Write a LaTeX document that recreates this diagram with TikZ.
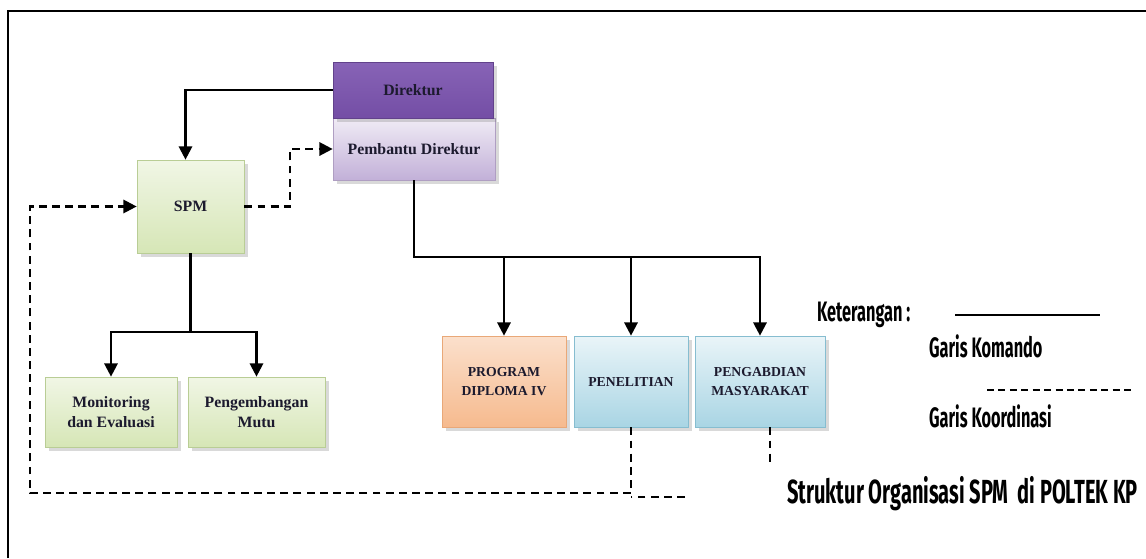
\documentclass[tikz,border=0pt]{standalone}
\usepackage{fontspec}
\setmainfont{Liberation Serif}
\newfontfamily\ketfont[FakeStretch=0.58]{Fira Sans}
\newfontfamily\judulfont[FakeStretch=0.6]{Fira Sans}
\usetikzlibrary{arrows.meta,shadows}

\definecolor{teksgelap}{HTML}{1C1A2E}
\definecolor{ungutua}{HTML}{7A52AE}
\definecolor{ungumuda}{HTML}{C2B0D8}
\definecolor{hijaumuda}{HTML}{D6E6B6}
\definecolor{hijaugaris}{HTML}{B9CD95}
\definecolor{oranye}{HTML}{F6BA8E}
\definecolor{oranyegaris}{HTML}{E9A878}
\definecolor{birumuda}{HTML}{A9D5E4}
\definecolor{birugaris}{HTML}{86BDD0}

\tikzset{
    kotak/.style={rectangle, inner sep=1pt, align=center, text=teksgelap,
        font=\bfseries\fontsize{9}{11}\selectfont,
        drop shadow={shadow xshift=2pt, shadow yshift=-2pt, opacity=0.3}},
    kotakungu/.style={kotak, draw=ungutua!80!black, top color=ungutua!90, bottom color=ungutua!95!black},
    kotaklavender/.style={kotak, draw=ungumuda!90!black, top color=ungumuda!25, bottom color=ungumuda},
    kotakhijau/.style={kotak, draw=hijaugaris, top color=hijaumuda!35, bottom color=hijaumuda},
    kotakoranye/.style={kotak, draw=oranyegaris, top color=oranye!45, bottom color=oranye,
        font=\bfseries\fontsize{7.8}{11}\selectfont},
    kotakbiru/.style={kotak, draw=birugaris, top color=birumuda!25, bottom color=birumuda,
        font=\bfseries\fontsize{7.8}{11}\selectfont},
    komando/.style={line width=1.3pt, -{Triangle[length=7.5pt,width=7.5pt]}},
    koordinasi/.style={line width=1.3pt, dash pattern=on 4.5pt off 3pt},
    teksket/.style={anchor=base west, font=\ketfont\bfseries\fontsize{16}{18}\selectfont}
}

\begin{document}
\begin{tikzpicture}[x=0.02cm, y=-0.02cm]
    \useasboundingbox ( 0, 0 ) rectangle ( 1146, 558 );

    % bingkai
    \draw [line width=1.3pt] ( 8, 558 ) -- ( 8, 11 ) -- ( 1146, 11 );

    % kotak
    \node [kotaklavender, minimum width=3.24cm, minimum height=1.24cm] (pd) at ( 414, 149 ) {Pembantu Direktur};
    \node [kotakungu, minimum width=3.2cm, minimum height=1.12cm] (dir) at ( 413, 90 ) {Direktur};
    \node [kotakhijau, minimum width=2.14cm, minimum height=1.86cm] (spm) at ( 190.5, 206.5 ) {SPM};
    \node [kotakhijau, minimum width=2.64cm, minimum height=1.4cm] (mon) at ( 111, 412 ) {Monitoring\\dan Evaluasi};
    \node [kotakhijau, minimum width=2.74cm, minimum height=1.4cm] (pmu) at ( 256.5, 412 ) {Pengembangan\\Mutu};
    \node [kotakoranye, minimum width=2.48cm, minimum height=1.82cm] (prog) at ( 504, 381.5 ) {PROGRAM\\DIPLOMA IV};
    \node [kotakbiru, minimum width=2.28cm, minimum height=1.82cm] (pen) at ( 631, 381.5 ) {PENELITIAN};
    \node [kotakbiru, minimum width=2.6cm, minimum height=1.82cm] (pkm) at ( 760, 381.5 ) {PENGABDIAN\\MASYARAKAT};

    % garis komando
    \coordinate (bus) at ( 0, 257 );
    \draw [komando] (dir.west) -| ([xshift=-0.1cm] spm.north);
    \draw [komando] (spm.south) -- ++( 0, 79 ) -| (mon.north);
    \draw [komando] (spm.south) -- ++( 0, 79 ) -| (pmu.north);
    \draw [komando] (pd.south) |- (prog.north |- bus) -- (prog.north);
    \draw [komando] (pd.south) |- (pen.north |- bus) -- (pen.north);
    \draw [komando] (pd.south) |- (pkm.north |- bus) -- (pkm.north);

    % garis koordinasi
    \coordinate (kiri) at ( 30, 493 );
    \coordinate (ujung) at ( 685, 497 );
    \coordinate (pkmujung) at ( 770, 465 );
    \draw [koordinasi, -{Triangle[length=7.5pt,width=7.5pt]}] (spm.east) -- ++( 46, 0 ) |- (pd.west);
    \draw [koordinasi, -{Triangle[length=7.5pt,width=7.5pt]}] (pen.south) |- (kiri) |- (spm.west);
    \draw [koordinasi] (ujung) -- (ujung -| pen.south);
    \draw [koordinasi] (pkmujung |- pkm.south) -- (pkmujung);

    % keterangan
    \node [teksket] (ket) at ( 811, 321 ) {Keterangan :};
    \draw [line width=0.9pt] ( 955, 315 ) -- ( 1100, 315 );
    \node [teksket] (gk) at ( 923, 357 ) {Garis Komando};
    \draw [line width=0.9pt, dash pattern=on 4pt off 2.5pt] ( 987, 390 ) -- ( 1133, 390 );
    \node [teksket] (gko) at ( 923, 427 ) {Garis Koordinasi};

    % judul
    \node [anchor=base west, font=\judulfont\bfseries\fontsize{19}{21}\selectfont] (judul) at ( 781, 503 ) {Struktur Organisasi SPM\ \ di POLTEK KP};
\end{tikzpicture}
\end{document}
